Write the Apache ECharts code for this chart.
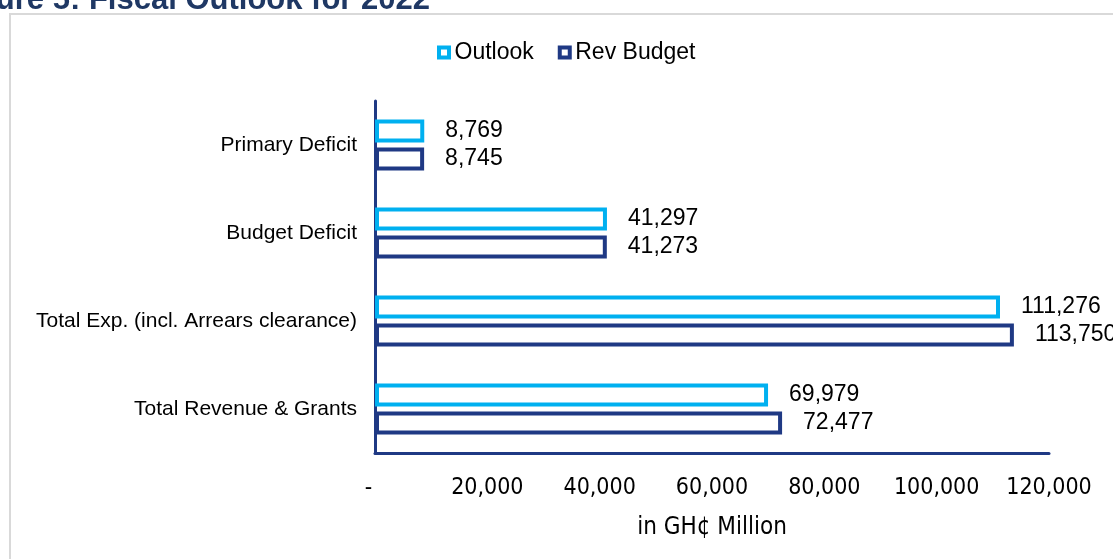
<!DOCTYPE html>
<html>
<head>
<meta charset="utf-8">
<script src="https://cdn.jsdelivr.net/npm/echarts@6/dist/echarts.min.js"></script>
<style>
html,body{margin:0;padding:0;background:#fff;}
#c{width:1113px;height:559px;}
</style>
</head>
<body>
<div id="c"></div>
<script>
const categories = ['Total Revenue & Grants', 'Total Exp. (incl. Arrears clearance)', 'Budget Deficit', 'Primary Deficit'];
const outlook = [69979, 111276, 41297, 8769];
const revBudget = [72477, 113750, 41273, 8745];
const xTicks = [0, 20000, 40000, 60000, 80000, 100000, 120000];
const seriesNames = ['Outlook', 'Rev Budget'];
const titleText = 'Figure 5: Fiscal Outlook for 2022';
const axisName = 'in GH¢ Million';

const CYAN = '#00b0f0';
const NAVY = '#1f3984';
const fmt = v => v === 0 ? '-  ' : v.toLocaleString('en-US');
const ringIcon = 'path://M0,0L14,0L14,14L0,14Z M4,4L4,10L10,10L10,4Z';

const chart = echarts.init(document.getElementById('c'), null, {renderer: 'canvas'});
chart.setOption({
  animation: false,
  backgroundColor: '#fff',
  graphic: [
    {type: 'rect', shape: {x: 10, y: 14, width: 1300, height: 800}, style: {fill: 'none', stroke: '#d9d9d9', lineWidth: 2}, silent: true},
    {type: 'text', x: 430, y: 0, style: {text: titleText, font: 'bold 31px "Liberation Sans", Arial', fill: '#1f3864', align: 'right', verticalAlign: 'middle'}, silent: true}
  ],
  legend: {
    left: 432, top: 36,
    itemWidth: 15, itemHeight: 14, itemGap: 24,
    textStyle: {fontFamily: '"Liberation Sans", Arial', fontSize: 23, color: '#000', padding: [0, 0, 0, -2]},
    data: [
      {name: seriesNames[0], icon: ringIcon, itemStyle: {color: CYAN, borderWidth: 0}},
      {name: seriesNames[1], icon: ringIcon, itemStyle: {color: NAVY, borderWidth: 0}}
    ]
  },
  grid: {left: 375, right: 64, top: 101, bottom: 106, containLabel: false},
  xAxis: {
    type: 'value', min: 0, max: 120000, interval: 20000,
    axisLine: {show: true, lineStyle: {color: NAVY, width: 3}},
    axisTick: {show: false},
    splitLine: {show: false},
    axisLabel: {formatter: fmt, margin: 24, fontFamily: '"DejaVu Sans Condensed", "DejaVu Sans"', fontSize: 23, color: '#000'},
    name: axisName, nameLocation: 'middle', nameGap: 63,
    nameTextStyle: {fontFamily: '"DejaVu Sans Condensed", "DejaVu Sans"', fontSize: 24, color: '#000'}
  },
  yAxis: {
    type: 'category', data: categories,
    axisLine: {show: true, lineStyle: {color: NAVY, width: 3}},
    axisTick: {show: false},
    axisLabel: {margin: 18, fontFamily: '"Liberation Sans", Arial', fontSize: 21, color: '#000'}
  },
  series: [
    {
      name: seriesNames[0], type: 'bar', data: outlook, barWidth: 23, barGap: '22%',
      itemStyle: {color: '#fff', borderColor: CYAN, borderWidth: 4},
      label: {show: true, position: 'right', distance: 21, formatter: p => fmt(p.value), fontFamily: '"Liberation Sans", Arial', fontSize: 23, color: '#000'}
    },
    {
      name: seriesNames[1], type: 'bar', data: revBudget, barWidth: 23, barGap: '22%',
      itemStyle: {color: '#fff', borderColor: NAVY, borderWidth: 4},
      label: {show: true, position: 'right', distance: 21, formatter: p => fmt(p.value), fontFamily: '"Liberation Sans", Arial', fontSize: 23, color: '#000'}
    }
  ]
});
</script>
</body>
</html>
